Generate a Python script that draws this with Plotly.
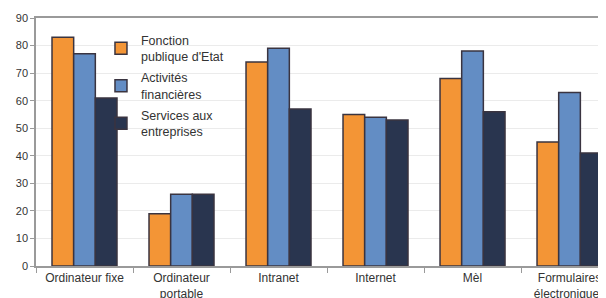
import plotly.graph_objects as go

categories = ["Ordinateur fixe", "Ordinateur<br>portable", "Intranet", "Internet", "Mèl",
              "Formulaires<br>électroniques"]
series_names = ["Fonction<br>publique d'Etat", "Activités<br>financières", "Services aux<br>entreprises"]
fonction_publique = [83, 19, 74, 55, 68, 45]
activites_financieres = [77, 26, 79, 54, 78, 63]
services_entreprises = [61, 26, 57, 53, 56, 41]
y_ticks = [0, 10, 20, 30, 40, 50, 60, 70, 80, 90]

colors = ["#F39536", "#638DC4", "#29354F"]
series = [fonction_publique, activites_financieres, services_entreprises]

fig = go.Figure()
for i, (name, vals) in enumerate(zip(series_names, series)):
    fig.add_trace(go.Bar(
        x=categories, y=vals, name=name, legendgroup=f"g{i}",
        marker=dict(color=colors[i], line=dict(color="#3A3440", width=1.5)),
    ))

font = "Liberation Sans, Arial, sans-serif"
# page body has an 8px margin: figure is drawn from (8, 8)
fig.update_layout(
    width=598, height=290,
    margin=dict(l=28, r=0, t=10, b=32),
    paper_bgcolor="white", plot_bgcolor="white",
    barmode="group", bargap=0.33, bargroupgap=0,
    font=dict(family=font, size=11, color="#333333"),
    showlegend=True,
    legend=dict(
        x=0.114, y=0.97, xanchor="left", yanchor="top",
        bgcolor="rgba(255,255,255,0)", font=dict(family=font, size=12.5, color="#333333"),
        tracegroupgap=2, itemwidth=30,
    ),
)
fig.update_xaxes(
    range=[-0.5, 5.376], showline=True, linecolor="#9A9A9A", linewidth=1.5,
    mirror=True, automargin=False,
    ticks="outside", tickson="boundaries", ticklen=5, tickcolor="#9A9A9A",
    showgrid=False, tickfont=dict(size=12, color="#333333"),
)
fig.update_yaxes(
    range=[0, 90], tickvals=y_ticks, showline=True, linecolor="#9A9A9A", linewidth=1.5,
    ticks="outside", ticklen=4, tickcolor="#9A9A9A", automargin=False,
    showgrid=True, gridcolor="#EBEBEB", gridwidth=1,
    tickfont=dict(size=11, color="#333333"), zeroline=False,
)
fig.write_html("out.html")
